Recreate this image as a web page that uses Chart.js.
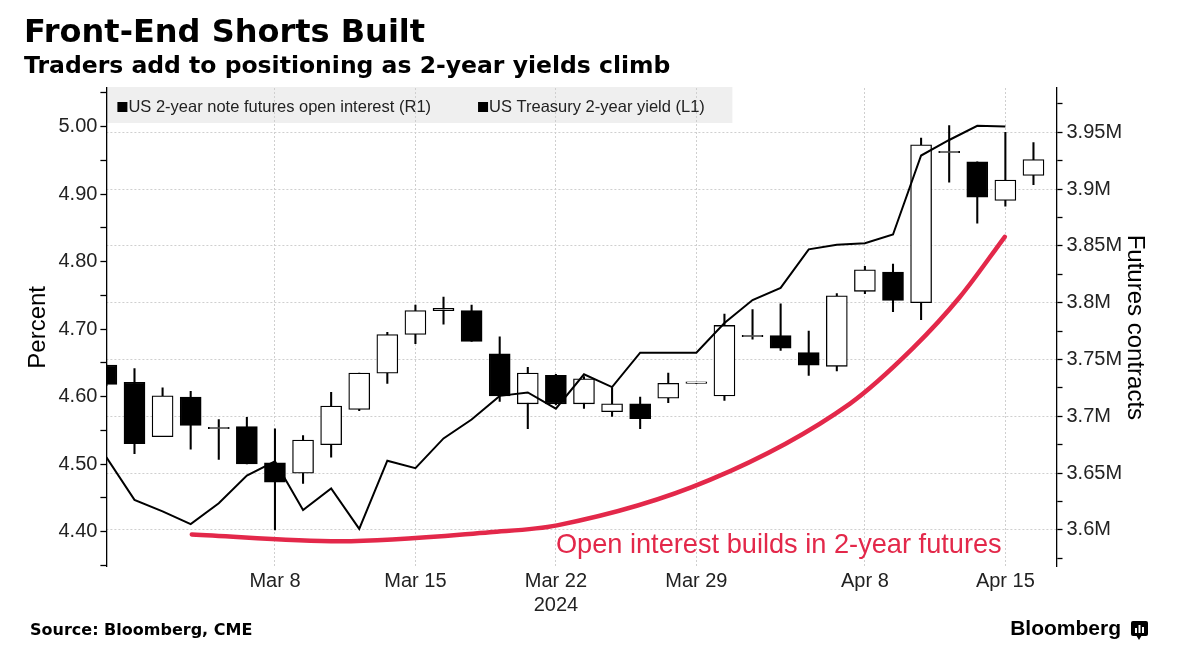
<!DOCTYPE html>
<html><head><meta charset="utf-8">
<script src="https://cdn.jsdelivr.net/npm/chart.js@4.4.1/dist/chart.umd.min.js"></script>
<style>html,body{margin:0;padding:0;background:#fff}#wrap{width:1179px;height:664px;position:relative}canvas{display:block}</style>
</head><body><div id="wrap"><canvas id="c" width="1179" height="664"></canvas></div>
<script>
// ---- data (trading days, index = position on x axis) ----
const dates = ['Feb 29','Mar 1','Mar 4','Mar 5','Mar 6','Mar 7','Mar 8','Mar 11','Mar 12','Mar 13','Mar 14','Mar 15','Mar 18','Mar 19','Mar 20','Mar 21','Mar 22','Mar 25','Mar 26','Mar 27','Mar 28','Mar 29','Apr 1','Apr 2','Apr 3','Apr 4','Apr 5','Apr 8','Apr 9','Apr 10','Apr 11','Apr 12','Apr 15','Apr 16'];
// US Treasury 2-year yield, percent (L1)
const yieldPct = [4.510,4.447,4.430,4.411,4.442,4.483,4.504,4.432,4.464,4.404,4.505,4.494,4.538,4.566,4.601,4.606,4.582,4.633,4.614,4.665,4.665,4.665,4.709,4.743,4.761,4.818,4.825,4.827,4.840,4.957,4.980,5.001,5.000,null];
// US 2-year note futures open interest, millions of contracts (R1)
const oiOpen  = [3.745,3.730,3.682,3.717,3.689,3.691,3.659,3.650,3.675,3.706,3.738,3.772,3.793,3.793,3.755,3.711,3.736,3.711,3.704,3.711,3.716,3.729,3.718,3.770,3.771,3.756,3.744,3.810,3.827,3.800,3.932,3.924,3.890,3.912];
const oiHigh  = [3.745,3.742,3.725,3.722,3.697,3.699,3.689,3.683,3.721,3.738,3.774,3.798,3.805,3.798,3.770,3.743,3.737,3.735,3.725,3.717,3.738,3.729,3.790,3.794,3.799,3.775,3.808,3.832,3.834,3.945,3.956,3.924,3.950,3.941];
const oiLow   = [3.727,3.667,3.682,3.671,3.662,3.658,3.600,3.641,3.664,3.705,3.729,3.764,3.781,3.766,3.713,3.689,3.710,3.707,3.700,3.689,3.712,3.729,3.714,3.768,3.758,3.736,3.740,3.808,3.792,3.785,3.906,3.870,3.885,3.904];
const oiClose = [3.728,3.676,3.718,3.692,3.689,3.658,3.642,3.679,3.709,3.738,3.772,3.793,3.795,3.766,3.718,3.738,3.711,3.733,3.711,3.698,3.729,3.729,3.780,3.770,3.760,3.745,3.806,3.829,3.802,3.939,3.932,3.893,3.908,3.926];
// x-axis tick labels
const xTickIdx = [6,11,16,21,27,32];
const xTickLabels = [['Mar 8'],['Mar 15'],['Mar 22','2024'],['Mar 29'],['Apr 8'],['Apr 15']];
// hand-drawn annotation curve (x index, open interest in millions)
const curveX = [3.04,8.31,13.65,16.04,21.48,26.46,28.71,30.38,31.98];
const curveY = [3.596,3.590,3.598,3.604,3.644,3.711,3.760,3.805,3.858];
const annotText = 'Open interest builds in 2-year futures';
const annotX = 16.0, annotY = 3.586;
const legendLabels = ['US 2-year note futures open interest (R1)','US Treasury 2-year yield (L1)'];

const FONT = "'Liberation Sans', Arial, sans-serif";
const BOLD = "'DejaVu Sans', 'Liberation Sans', sans-serif";
const RED = '#e3284a';

const yieldData = yieldPct.map((v,i)=>({x:i,y:v})).filter(p=>p.y!==null);
const bodyData = oiOpen.map((o,i)=>({x:i,y:[o,oiClose[i]]}));
const wickData = oiLow.map((l,i)=>({x:i,y:[l,oiHigh[i]]}));
const bodyColors = oiOpen.map((o,i)=> oiClose[i] < o ? '#000' : '#fff');
const curveData = curveX.map((x,i)=>({x:x,y:curveY[i]}));

const isMult = (v, step) => Math.abs(v/step - Math.round(v/step)) < 1e-6;

const overlayPlugin = {
  id: 'overlay',
  beforeDraw(chart) {
    const ctx = chart.ctx, a = chart.chartArea;
    ctx.save();
    ctx.fillStyle = '#fff';
    ctx.fillRect(0,0,chart.width,chart.height);
    ctx.fillStyle = '#efefef';
    ctx.fillRect(a.left, a.top - 1, 626, 36);
    ctx.restore();
  },
  afterDraw(chart) {
    const ctx = chart.ctx, a = chart.chartArea;
    ctx.save();
    // legend
    ctx.font = '16.5px ' + FONT;
    ctx.textBaseline = 'middle';
    let x = a.left + 11;
    const ly = a.top + 19;
    legendLabels.forEach((t) => {
      ctx.fillStyle = '#000';
      ctx.fillRect(x, ly - 5, 10, 10);
      ctx.fillStyle = '#222';
      ctx.fillText(t, x + 11, ly);
      x += 11 + ctx.measureText(t).width + 47;
    });
    // annotation text
    ctx.font = '27.2px ' + FONT;
    ctx.fillStyle = RED;
    ctx.textBaseline = 'middle';
    ctx.fillText(annotText, chart.scales.x.getPixelForValue(annotX), chart.scales.yR.getPixelForValue(annotY));
    // footer
    ctx.font = 'bold 16px ' + BOLD;
    ctx.fillStyle = '#000';
    ctx.fillText('Source: Bloomberg, CME', 30, 631);
    ctx.font = 'bold 21px ' + FONT;
    ctx.textAlign = 'right';
    ctx.fillText('Bloomberg', 1121, 629);
    // logo icon
    ctx.fillStyle = '#000';
    ctx.beginPath();
    ctx.roundRect(1131, 621, 17, 15, 2);
    ctx.fill();
    ctx.beginPath();
    ctx.moveTo(1136, 635); ctx.lineTo(1139, 640); ctx.lineTo(1142, 635); ctx.fill();
    ctx.fillStyle = '#fff';
    ctx.fillRect(1135, 628, 2, 5);
    ctx.fillRect(1138.5, 625, 2, 8);
    ctx.fillRect(1142, 627, 2, 6);
    ctx.restore();
  }
};

new Chart(document.getElementById('c'), {
  type: 'bar',
  plugins: [overlayPlugin],
  data: {
    datasets: [
      { type:'line', label:'US Treasury 2-year yield (L1)', data: yieldData, yAxisID:'yL', xAxisID:'x',
        borderColor:'#000', borderWidth:2, pointRadius:0, tension:0, order:0 },
      { type:'line', label:'annotation', data: curveData, yAxisID:'yR', xAxisID:'x',
        borderColor:RED, borderWidth:4.5, pointRadius:0, cubicInterpolationMode:'monotone', borderCapStyle:'round', order:1 },
      { type:'bar', label:'body', data: bodyData, yAxisID:'yR', xAxisID:'x',
        backgroundColor: bodyColors, borderColor:'#000', borderWidth:1.3, borderSkipped:false,
        barThickness:21, grouped:false, minBarLength:1.5, clip:0, order:2 },
      { type:'bar', label:'wick', data: wickData, yAxisID:'yR', xAxisID:'x',
        backgroundColor:'#000', borderWidth:0, barThickness:1.4, grouped:false, clip:0, order:3 }
    ]
  },
  options: {
    responsive:false, animation:false, devicePixelRatio:1,
    layout:{ padding:{ left:24, right:0, top:0, bottom:0 } },
    plugins:{
      legend:{ display:false }, tooltip:{ enabled:false },
      title:{ display:true, text:'Front-End Shorts Built', align:'start', color:'#000',
        font:{ family:BOLD, size:32, weight:'bold', lineHeight:1.2 }, padding:{ top:14, bottom:0 } },
      subtitle:{ display:true, text:'Traders add to positioning as 2-year yields climb', align:'start', color:'#000',
        font:{ family:BOLD, size:23.5, weight:'bold', lineHeight:1.2 }, padding:{ top:0, bottom:7.4 } }
    },
    scales:{
      x:{ type:'linear', position:'bottom', min:0, max:33.82, offset:false,
        afterBuildTicks:(s)=>{ s.ticks = xTickIdx.map(v=>({value:v})); },
        afterFit:(s)=>{ s.height = 97.3; },
        ticks:{ autoSkip:false, maxRotation:0, padding:3, color:'#222',
          font:{ family:FONT, size:20, lineHeight:1.2 },
          callback:(v)=>{ const k = xTickIdx.indexOf(v); return k>=0 ? xTickLabels[k] : ''; } },
        grid:{ offset:false, drawTicks:false, color:'#cfcfcf', lineWidth:1 },
        border:{ display:false, dash:[2,2] } },
      yL:{ type:'linear', position:'left', min:4.348, max:5.057,
        afterFit:(s)=>{ s.width = 82.4; },
        ticks:{ stepSize:0.05, maxTicksLimit:30, includeBounds:false, autoSkip:false, padding:3, color:'#222',
          font:{ family:FONT, size:20, lineHeight:1.2 },
          callback:(v)=> isMult(v,0.1) ? v.toFixed(2) : '' },
        grid:{ drawOnChartArea:false, tickLength:6, tickColor:'#000', tickWidth:1.3 },
        border:{ display:true, color:'#000', width:1.3 },
        title:{ display:true, text:'Percent', color:'#000', font:{ family:FONT, size:24, lineHeight:1.2 }, padding:{ top:0, bottom:0 } } },
      yR:{ type:'linear', position:'right', min:3.5676, max:3.989,
        afterFit:(s)=>{ s.width = 122.5; },
        ticks:{ stepSize:0.025, maxTicksLimit:30, includeBounds:false, autoSkip:false, padding:4, color:'#222',
          font:{ family:FONT, size:20, lineHeight:1.2 },
          callback:(v)=> isMult(v,0.05) ? (Math.round(v*100)/100) + 'M' : '' },
        grid:{ drawOnChartArea:true, tickLength:6, tickColor:'#000', tickWidth:1.3, lineWidth:1,
          color:(c)=> (c.tick && isMult(c.tick.value,0.05)) ? '#cfcfcf' : 'rgba(0,0,0,0)' },
        border:{ display:true, color:'#000', width:1.3, dash:[2,2] },
        title:{ display:true, text:'Futures contracts', color:'#000', font:{ family:FONT, size:24, lineHeight:1.2 }, padding:{ top:29.6, bottom:0 } } }
    }
  }
});
</script></body></html>
